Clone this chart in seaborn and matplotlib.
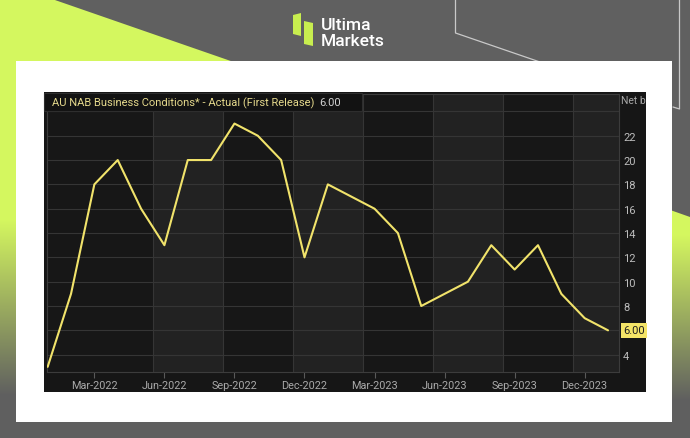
import numpy as np
import pandas as pd
import matplotlib
matplotlib.use("Agg")
import matplotlib.pyplot as plt
from matplotlib.patches import Polygon, Rectangle
import seaborn as sns

# Monthly NAB business conditions, Jan-2022 .. Jan-2024 (net balance)
months = pd.date_range("2022-01-01", "2024-01-01", freq="MS")
conditions = [3, 9, 18, 20, 16, 13, 20, 20, 23, 22, 20, 12,
              18, 17, 16, 14, 8, 9, 10, 13, 11, 13, 9, 7, 6]
tick_labels = ["Mar-2022", "Jun-2022", "Sep-2022", "Dec-2022",
               "Mar-2023", "Jun-2023", "Sep-2023", "Dec-2023"]
y_ticks = [4, 6, 8, 10, 12, 14, 16, 18, 20, 22, 24]
title = "AU NAB Business Conditions* - Actual (First Release)"
latest = conditions[-1]

df = pd.DataFrame({"idx": np.arange(len(months)), "value": conditions})

sns.set_theme(style="dark")
plt.rcParams["font.family"] = ["Roboto", "DejaVu Sans"]

W, H = 690, 439
GRAY = "#606060"
LIME = np.array([0.835, 0.969, 0.373])
GRAYC = np.array([0.376, 0.376, 0.376])

fig = plt.figure(figsize=(W / 100, H / 100), dpi=100)
fig.patch.set_facecolor(GRAY)


def fbox(x0, y0, x1, y1):
    return [x0 / W, 1 - y1 / H, (x1 - x0) / W, (y1 - y0) / H]


def pixel_axes(zorder):
    a = fig.add_axes([0, 0, 1, 1], zorder=zorder)
    a.set_xlim(0, W)
    a.set_ylim(H, 0)
    a.axis("off")
    a.patch.set_alpha(0)
    return a


# background decoration layer in pixel coordinates
bg = pixel_axes(0)


def grad_image(y_full, y_end):
    ys = np.arange(H)
    t = np.clip((ys - y_full) / (y_end - y_full), 0, 1)[:, None]
    col = LIME * (1 - t) + GRAYC * t
    return np.repeat(col[:, None, :], 4, axis=1).reshape(H, 4, 3)


left_poly = Polygon([(0, 0), (52, 0), (300, 86), (300, H), (0, H)],
                    closed=True, transform=bg.transData, facecolor="none",
                    edgecolor="none")
bg.add_patch(left_poly)
im = bg.imshow(grad_image(220, 395), extent=(0, W, H, 0), aspect="auto",
               zorder=1)
im.set_clip_path(left_poly)

right_poly = Polygon([(560, 172), (690, 218), (690, H), (560, H)],
                     closed=True, transform=bg.transData, facecolor="none",
                     edgecolor="none")
bg.add_patch(right_poly)
im2 = bg.imshow(grad_image(235, 400), extent=(0, W, H, 0), aspect="auto",
                zorder=1)
im2.set_clip_path(right_poly)
bg.set_xlim(0, W)
bg.set_ylim(H, 0)

# thin outline strokes in the top-right corner
bg.plot([455.5, 455.5, 540], [0, 34, 63], color="#c9c9c9", lw=0.9, zorder=2)
bg.plot([679.5, 679.5, 673], [0, 110, 108], color="#c9c9c9", lw=0.9, zorder=2)

# logo
bg.add_patch(Polygon([(293, 16), (301, 14), (301, 37), (293, 35)],
                     closed=True, facecolor="#c8ee4f", edgecolor="none",
                     zorder=3))
bg.add_patch(Polygon([(304, 22), (313, 24), (313, 47), (304, 45)],
                     closed=True, facecolor="#c8ee4f", edgecolor="none",
                     zorder=3))
bg.text(321, 26, "Ultima", color="white", fontsize=12.5, fontweight="medium",
        va="center", ha="left", zorder=3)
bg.text(321, 42, "Markets", color="white", fontsize=12.5, fontweight="medium",
        va="center", ha="left", zorder=3)

# white card and dark chart panel
bg.add_patch(Rectangle((16, 62), 656, 361, facecolor="white",
                       edgecolor="none", zorder=4))
panel = Rectangle((44, 93), 602, 300, facecolor="#161616",
                  edgecolor="none", zorder=5)
bg.add_patch(panel)

# main axes
ax = fig.add_axes(fbox(46.5, 95, 619, 372.7), zorder=1)
ax.set_facecolor("#1b1b1b")
x_min, x_max = -0.05, 24.47

# alternating quarter bands and separators
edges = [x_min, 4.5, 7.5, 10.5, 13.5, 16.5, 19.5, 22.5, x_max]
for i in range(len(edges) - 1):
    shade = "#171717" if i % 2 == 0 else "#222222"
    ax.axvspan(edges[i], edges[i + 1], color=shade, lw=0, zorder=0)
for e in edges[1:-1]:
    ax.axvline(e, color="#353535", lw=0.8, zorder=1)
for v in y_ticks:
    ax.axhline(v, color="#353535", lw=0.8, zorder=1)

sns.lineplot(data=df, x="idx", y="value", ax=ax, color="#f1e36b",
             linewidth=1.5, zorder=3)

ax.set_xlim(x_min, x_max)
ax.set_ylim(2.6, 25.43)
ax.set_xlabel("")
ax.set_ylabel("")
ax.grid(False)
ax.set_xticks([2, 5, 8, 11, 14, 17, 20, 23])
ax.set_xticklabels(tick_labels)
ax.tick_params(axis="x", colors="#5a5a5a", labelcolor="#a9a9a9",
               labelsize=7.8, length=4, width=0.8, pad=2, direction="out",
               bottom=True)
ax.yaxis.tick_right()
ax.set_yticks(y_ticks)
# 24 carries no label; the latest-value tag sits where 6 would be
ax.set_yticklabels([str(v) if v not in (24, latest) else "" for v in y_ticks])
ax.tick_params(axis="y", labelcolor="#bdbdbd", labelsize=8, length=0, pad=3)
for s in ax.spines.values():
    s.set_color("#3c3c3c")
    s.set_linewidth(0.8)

# latest value tag on the value axis
ax.annotate(f"{latest:.2f}", xy=(1, latest), xycoords=("axes fraction", "data"),
            xytext=(3, 0), textcoords="offset points", ha="left",
            va="center", fontsize=8, color="#1e1e1e",
            bbox=dict(boxstyle="square,pad=0.2", facecolor="#f4e467",
                      edgecolor="none"), annotation_clip=False)

# overlay layer: title strip and unit label
top = pixel_axes(2)
unit = top.text(621, 101, "Net balance", color="#a8a8a8", fontsize=7.5,
                va="center", ha="left")
unit.set_clip_on(True)
unit.set_clip_path(Rectangle((44, 93), 602, 300, transform=top.transData))

top.add_patch(Rectangle((44, 93.5), 318, 18, facecolor="#121212",
                        edgecolor="#2e2e2e", lw=0.8))
t = top.text(52, 103, title, color="#e5d98c", fontsize=8,
             va="center", ha="left")
fig.canvas.draw()
bb = t.get_window_extent()
x_end = bb.x1 * W / fig.bbox.width
top.text(x_end + 5, 103, f"{latest:.2f}", color="#d2d2d2", fontsize=8,
         va="center", ha="left")

fig.savefig("out.png", dpi=100, facecolor=fig.get_facecolor())
